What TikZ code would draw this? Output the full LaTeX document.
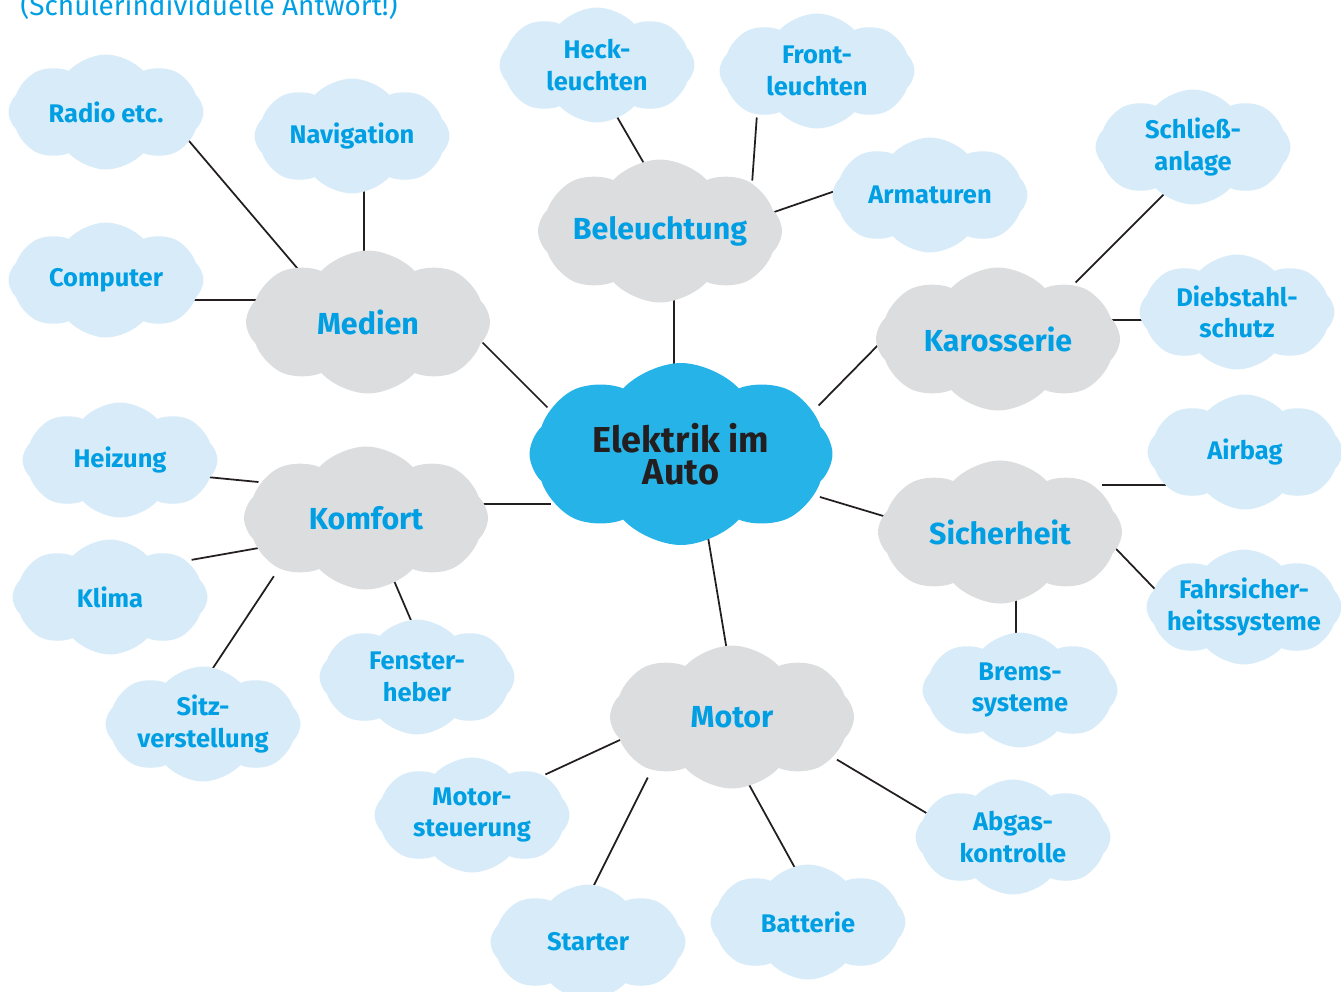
\documentclass[tikz,border=0pt]{standalone}
\usepackage{fontspec}
\setmainfont{Fira Sans}
\usetikzlibrary{shapes.symbols,backgrounds,calc}
\definecolor{leafblue}{RGB}{216,235,248}
\definecolor{topicgray}{RGB}{220,221,223}
\definecolor{corecyan}{RGB}{38,180,232}
\definecolor{textblue}{RGB}{0,159,227}
\definecolor{linegray}{RGB}{35,31,32}

\begin{document}
\begin{tikzpicture}[x=0.02cm,y=-0.02cm,
  bubble/.style={cloud,cloud puffs=8,cloud puff arc=95,cloud ignores aspect,inner sep=0pt,draw=none},
  leaf/.style={bubble,fill=leafblue,minimum width=3.9cm,minimum height=2.3cm,
    label={[text=textblue,align=center,font=\bfseries\fontsize{14.5}{18}\selectfont]center:#1}},
  topic/.style={bubble,fill=topicgray,minimum width=4.88cm,minimum height=2.86cm,
    label={[text=textblue,font=\bfseries\fontsize{17.3}{20}\selectfont]center:#1}},
  core/.style={bubble,fill=corecyan,minimum width=6.06cm,minimum height=3.64cm,
    label={[text=linegray,align=center,font=\bfseries\fontsize{20.5}{18}\selectfont]center:#1}},
  link/.style={draw=linegray,line width=1pt,shorten <=-6pt,shorten >=-6pt}
]
\useasboundingbox (0,0) rectangle (1341,991);

\node[anchor=base west,inner sep=0pt,text=textblue,font=\fontsize{15.9}{19}\selectfont] (hint) at (20,15) {(Schülerindividuelle Antwort!)};

% centre and main branches
\node[core={Elektrik im\\Auto}] (auto) at (681,454) {};
\node[topic=Beleuchtung] (licht) at (660,231) {};
\node[topic=Medien] (medien) at (368,322) {};
\node[topic=Karosserie] (karo) at (998,339) {};
\node[topic=Komfort] (komfort) at (366,518) {};
\node[topic=Sicherheit] (sicher) at (1000,532) {};
\node[topic=Motor] (motor) at (732,717) {};

% sub-items
\node[leaf={Radio etc.}] (radio) at (106,112) {};
\node[leaf=Navigation] (navi) at (352,136) {};
\node[leaf=Computer] (computer) at (106,280) {};
\node[leaf={Heck-\\leuchten}] (heck) at (597,65) {};
\node[leaf={Front-\\leuchten}] (front) at (817,71) {};
\node[leaf=Armaturen] (armatur) at (930,195) {};
\node[leaf={Schließ-\\anlage}] (schloss) at (1193,147) {};
\node[leaf={Diebstahl-\\schutz}] (diebstahl) at (1237,312) {};
\node[leaf=Airbag] (airbag) at (1245,452) {};
\node[leaf={Fahrsicher-\\heitssysteme}] (fahr) at (1244,607) {};
\node[leaf={Brems-\\systeme}] (bremse) at (1020,690) {};
\node[leaf={Abgas-\\kontrolle}] (abgas) at (1013,837) {};
\node[leaf=Batterie] (batterie) at (808,922) {};
\node[leaf=Starter] (starter) at (588,942) {};
\node[leaf={Motor-\\steuerung}] (steuerung) at (472,815) {};
\node[leaf={Sitz-\\verstellung}] (sitz) at (203,724) {};
\node[leaf={Fenster-\\heber}] (fenster) at (417,677) {};
\node[leaf=Klima] (klima) at (110,597) {};
\node[leaf=Heizung] (heizung) at (120,460) {};

% connectors run behind the clouds
\begin{scope}[on background layer]
\draw[link] ($(radio)+(89,36)$) -- ($(medien)+(-76,-60)$);
\draw[link] ($(navi)+(12,54)$) -- ($(medien)+(-4,-72)$);
\draw[link] ($(computer)+(97,20)$) -- ($(medien)+(-122,-22)$);
\draw[link] ($(medien)+(122,28)$) -- ($(auto)+(-141,-54)$);
\draw[link] ($(heck)+(23,57)$) -- ($(licht)+(-18,-71)$);
\draw[link] ($(front)+(-61,57)$) -- ($(licht)+(93,-61)$);
\draw[link] ($(armatur)+(-92,-5)$) -- ($(licht)+(120,-21)$);
\draw[link] ($(licht)+(14,71)$) -- ($(auto)+(-7,-89)$);
\draw[link] ($(schloss)+(-33,51)$) -- ($(karo)+(85,-64)$);
\draw[link] ($(diebstahl)+(-82,8)$) -- ($(karo)+(122,-19)$);
\draw[link] ($(karo)+(-113,-1)$) -- ($(auto)+(145,-56)$);
\draw[link] ($(airbag)+(-90,33)$) -- ($(sicher)+(113,-47)$);
\draw[link] ($(fahr)+(-96,-25)$) -- ($(sicher)+(122,23)$);
\draw[link] ($(bremse)+(-4,-58)$) -- ($(sicher)+(16,72)$);
\draw[link] ($(sicher)+(-120,-17)$) -- ($(auto)+(149,46)$);
\draw[link] ($(heizung)+(97,18)$) -- ($(komfort)+(-118,-37)$);
\draw[link] ($(klima)+(92,-39)$) -- ($(komfort)+(-113,31)$);
\draw[link] ($(sitz)+(10,-56)$) -- ($(komfort)+(-98,67)$);
\draw[link] ($(fenster)+(-7,-59)$) -- ($(komfort)+(32,72)$);
\draw[link] ($(komfort)+(119,-14)$) -- ($(auto)+(-141,50)$);
\draw[link] ($(auto)+(28,89)$) -- ($(motor)+(-6,-72)$);
\draw[link] ($(steuerung)+(83,-45)$) -- ($(motor)+(-110,22)$);
\draw[link] ($(starter)+(6,-57)$) -- ($(motor)+(-89,70)$);
\draw[link] ($(batterie)+(-13,-54)$) -- ($(motor)+(20,73)$);
\draw[link] ($(abgas)+(-95,-29)$) -- ($(motor)+(114,48)$);
\end{scope}
\end{tikzpicture}
\end{document}
